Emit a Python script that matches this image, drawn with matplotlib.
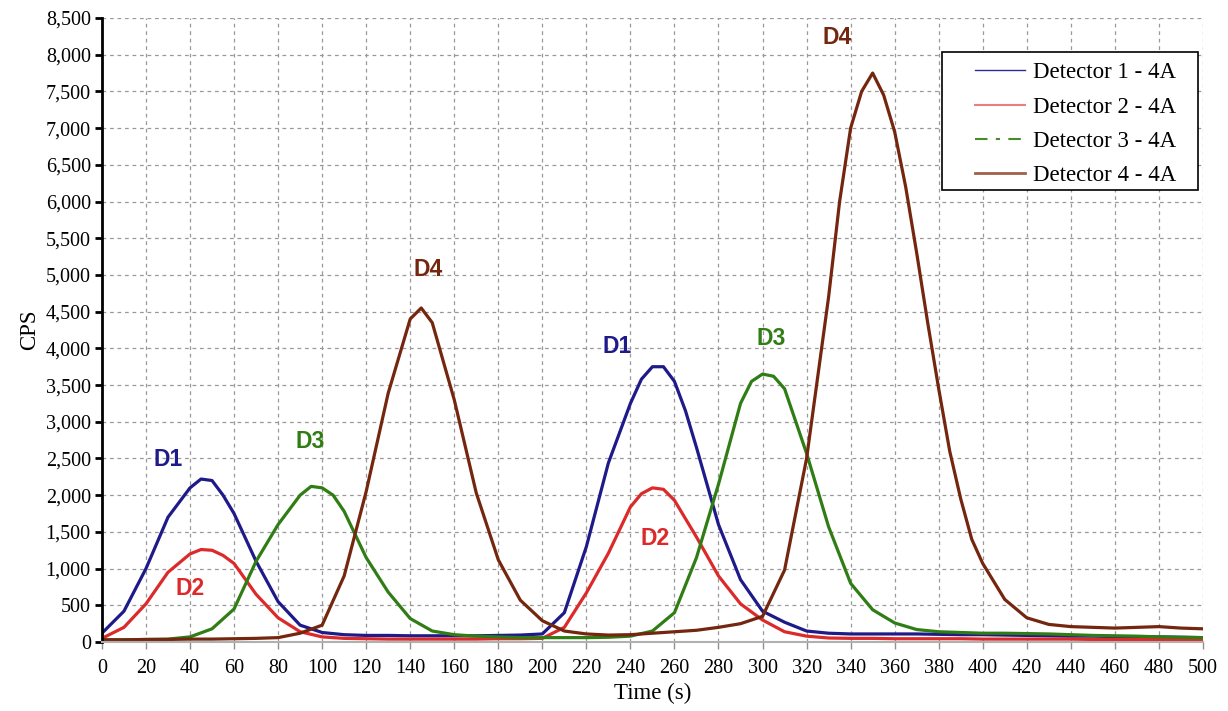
import matplotlib.pyplot as plt
from matplotlib.lines import Line2D
from matplotlib.patches import Rectangle
from matplotlib.ticker import FuncFormatter

# detector 1 (time in s, counts per second)
t1 = [0, 10, 20, 30, 40, 45, 50, 55, 60, 70, 80, 90,
      100, 110, 120, 130, 140, 150, 160, 170, 180, 190,
      200, 210, 220, 230, 240, 245, 250, 255, 260, 265, 270, 280, 290,
      300, 310, 320, 330, 340, 350, 360, 370, 380, 390,
      400, 410, 420, 430, 440, 450, 460, 470, 480, 490, 500]
det1 = [120, 420, 1000, 1700, 2100, 2220, 2200, 2000, 1750, 1100, 550, 230,
        130, 100, 90, 90, 85, 85, 85, 85, 90, 95,
        110, 400, 1300, 2440, 3250, 3580, 3750, 3750, 3550, 3150, 2650, 1600, 850,
        420, 270, 150, 120, 110, 110, 110, 110, 105, 100,
        100, 95, 90, 85, 80, 80, 75, 70, 70, 65, 60]

# detector 2
t2 = [0, 10, 20, 30, 40, 45, 50, 55, 60, 70, 80, 90,
      100, 110, 120, 130, 140, 150, 160, 170, 180, 190,
      200, 210, 220, 230, 240, 245, 250, 255, 260, 270, 280, 290,
      300, 310, 320, 330, 340, 350, 360, 370, 380, 390,
      400, 410, 420, 430, 440, 450, 460, 470, 480, 490, 500]
det2 = [50, 200, 520, 950, 1200, 1260, 1250, 1180, 1070, 650, 330, 140,
        70, 50, 45, 40, 40, 40, 40, 40, 45, 45,
        50, 200, 670, 1210, 1840, 2020, 2100, 2080, 1930, 1430, 900, 520,
        300, 140, 80, 55, 50, 50, 45, 45, 45, 45,
        40, 40, 40, 40, 40, 35, 35, 35, 35, 35, 35]

# detector 3
t3 = [0, 10, 20, 30, 40, 50, 60, 70, 80, 90, 95,
      100, 105, 110, 120, 130, 140, 150, 160, 170, 180, 190,
      200, 210, 220, 230, 240, 250, 260, 270, 280, 290, 295,
      300, 305, 310, 320, 330, 340, 350, 360, 370, 380, 390,
      400, 410, 420, 430, 440, 450, 460, 470, 480, 490, 500]
det3 = [30, 30, 35, 40, 70, 180, 450, 1100, 1600, 2000, 2120,
        2100, 2000, 1780, 1150, 680, 320, 150, 100, 80, 70, 60,
        60, 60, 60, 65, 80, 150, 400, 1150, 2150, 3250, 3550,
        3650, 3620, 3450, 2570, 1570, 800, 440, 260, 170, 140, 130,
        120, 120, 115, 110, 100, 90, 85, 80, 70, 65, 60]

# detector 4
t4 = [0, 10, 20, 30, 40, 50, 60, 70, 80, 90,
      100, 110, 120, 130, 140, 145, 150, 160, 170, 180, 190,
      200, 210, 220, 230, 240, 250, 260, 270, 280, 290,
      300, 310, 320, 325, 330, 335, 340, 345, 350, 355, 360, 365, 370, 375,
      380, 385, 390, 395, 400, 410, 420, 430, 440, 450,
      460, 470, 480, 490, 500]
det4 = [30, 30, 35, 35, 40, 40, 45, 50, 60, 120,
        230, 900, 2050, 3390, 4400, 4550, 4350, 3300, 2030, 1120, 570,
        290, 150, 110, 95, 100, 120, 140, 160, 200, 250,
        350, 980, 2500, 3600, 4700, 6000, 7000, 7500, 7750, 7450, 6950, 6200, 5300, 4350,
        3450, 2600, 1950, 1400, 1070, 580, 330, 240, 210, 200,
        190, 200, 210, 190, 180]

colors = ['#1f1a8a', '#dc2a2a', '#2f7d14', '#74260f']
names = ['Detector 1 - 4A', 'Detector 2 - 4A', 'Detector 3 - 4A', 'Detector 4 - 4A']

# peak labels: (text, t, cps, color index)
peak_labels = [('D1', 30, 2490, 0), ('D2', 40, 735, 1), ('D3', 94.5, 2725, 2),
               ('D4', 148, 5070, 3), ('D1', 234, 4030, 0), ('D2', 251, 1415, 1),
               ('D3', 304, 4130, 2), ('D4', 334, 8230, 3)]

fig = plt.figure(figsize=(12.28, 7.11), dpi=100)
ax = fig.add_axes([0.083, 0.097, 0.8966, 0.8777])

ax.plot(t1, det1, color=colors[0], lw=2.3)
ax.plot(t2, det2, color=colors[1], lw=2.3)
ax.plot(t3, det3, color=colors[2], lw=2.3)
ax.plot(t4, det4, color=colors[3], lw=2.3)

for txt, x, y, c in peak_labels:
    ax.text(x, y, txt, color=colors[c], fontsize=16.5, fontweight='bold',
            family='Liberation Sans', ha='center', va='center')

ax.set_xlim(0, 500)
ax.set_ylim(0, 8500)
ax.set_xticks(range(0, 501, 20))
ax.set_yticks(range(0, 8501, 500))
ax.yaxis.set_major_formatter(FuncFormatter(lambda v, p: f'{int(v):,}'))

serif = 'Liberation Serif'
for lab in ax.get_xticklabels() + ax.get_yticklabels():
    lab.set_family(serif)
    lab.set_fontsize(14.5)
ax.set_xlabel('Time (s)', family=serif, fontsize=16.5, labelpad=4)
ax.set_ylabel('CPS', family=serif, fontsize=16.5, labelpad=4)

ax.spines['top'].set_visible(False)
ax.spines['right'].set_visible(False)
ax.spines['left'].set_linewidth(2)
ax.spines['left'].set_color('black')
ax.spines['bottom'].set_color('#b0b0b0')
ax.spines['bottom'].set_linewidth(1.5)
ax.tick_params(axis='y', direction='out', length=5, width=2, color='black', pad=3)
ax.tick_params(axis='x', direction='out', length=5, width=1, color='#909090', pad=7)

ax.grid(True, color='#999999', linestyle=(0, (3, 3)), linewidth=0.9)
ax.set_axisbelow(True)

# legend box drawn by hand so the inner margins match
box = Rectangle((0.763, 0.7244), 0.2325, 0.2211, transform=ax.transAxes,
                facecolor='white', edgecolor='black', lw=1.2, zorder=4)
ax.add_patch(box)

handles = [Line2D([], [], color='#2a2a9a', lw=1),
           Line2D([], [], color='#e88080', lw=1.5),
           Line2D([], [], color='#4a8a2a', lw=1.5, linestyle=(0, (6, 4, 2, 4))),
           Line2D([], [], color='#a0604a', lw=2)]
leg = ax.legend(handles, names, loc='upper left', bbox_to_anchor=(0.7929, 0.929),
                borderaxespad=0, borderpad=0, frameon=False,
                prop={'family': serif, 'size': 16.5},
                handlelength=2.2, handletextpad=0.35, labelspacing=0.58)
leg.set_zorder(5)

fig.savefig('out.png', dpi=100)
